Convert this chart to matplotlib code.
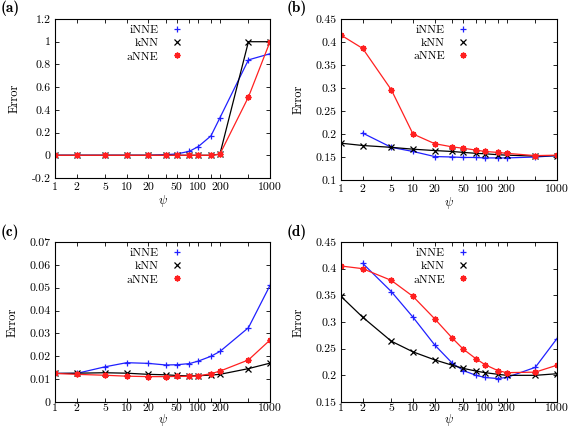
import numpy as np
import matplotlib
matplotlib.use("Agg")
import matplotlib.pyplot as plt
from matplotlib.lines import Line2D
from matplotlib.ticker import FuncFormatter

plt.rcParams['font.family'] = 'serif'
plt.rcParams['font.serif'] = ['cmr10', 'DejaVu Serif']
plt.rcParams['mathtext.fontset'] = 'cm'
plt.rcParams['axes.unicode_minus'] = False
plt.rcParams['axes.formatter.use_mathtext'] = True

psi = [1, 2, 5, 10, 20, 35, 50, 75, 100, 150, 200, 500, 1000]
psi_labels = ['1', '2', '5', '10', '20', '', '50', '', '100', '', '200', '', '1000']

# (a)
a_inne = [0, 0, 0, 0, 0, 0.005, 0.012, 0.035, 0.077, 0.171, 0.33, 0.84, 0.894]
a_knn = [0, 0, 0, 0, 0, 0, 0, 0, 0, 0, 0.01, 1.0, 1.0]
a_anne = [0, 0, 0, 0, 0, 0, 0, 0, 0, 0, 0.01, 0.513, 1.0]

# (b) iNNE starts at psi=2
b_inne = [np.nan, 0.202, 0.171, 0.162, 0.151, 0.150, 0.149, 0.149, 0.148, 0.148, 0.148, 0.150, 0.153]
b_knn = [0.180, 0.175, 0.171, 0.167, 0.164, 0.162, 0.160, 0.158, 0.157, 0.155, 0.154, 0.152, 0.153]
b_anne = [0.415, 0.386, 0.296, 0.200, 0.179, 0.172, 0.169, 0.165, 0.162, 0.160, 0.158, 0.153, 0.154]

# (c)
c_inne = [0.0125, 0.0125, 0.0154, 0.0172, 0.0169, 0.0162, 0.0163, 0.0168, 0.0179, 0.0200, 0.0221, 0.0325, 0.0510]
c_knn = [0.0125, 0.0126, 0.0128, 0.0126, 0.0121, 0.0119, 0.0116, 0.0114, 0.0115, 0.0118, 0.0121, 0.0146, 0.0170]
c_anne = [0.0125, 0.0121, 0.0117, 0.0113, 0.0111, 0.0111, 0.0112, 0.0112, 0.0114, 0.0124, 0.0135, 0.0184, 0.0271]

# (d) iNNE starts at psi=2
d_inne = [np.nan, 0.410, 0.357, 0.309, 0.257, 0.223, 0.209, 0.200, 0.196, 0.194, 0.196, 0.215, 0.269]
d_knn = [0.348, 0.309, 0.264, 0.244, 0.229, 0.219, 0.213, 0.208, 0.205, 0.202, 0.200, 0.200, 0.203]
d_anne = [0.405, 0.400, 0.378, 0.348, 0.306, 0.270, 0.249, 0.231, 0.220, 0.209, 0.205, 0.206, 0.219]

panels = [
    ('(a)', a_inne, a_knn, a_anne, (-0.2, 1.2), np.arange(-0.2, 1.21, 0.2)),
    ('(b)', b_inne, b_knn, b_anne, (0.1, 0.45), np.arange(0.1, 0.451, 0.05)),
    ('(c)', c_inne, c_knn, c_anne, (0, 0.07), np.arange(0, 0.0701, 0.01)),
    ('(d)', d_inne, d_knn, d_anne, (0.15, 0.45), np.arange(0.15, 0.451, 0.05)),
]

# axes boxes in pixels: left, right, top, bottom
boxes = [(55, 270, 19, 178), (341, 557, 19, 180), (55, 270, 242, 402), (341, 557, 242, 402)]
W, H = 568, 430

fig = plt.figure(figsize=(5.68, 4.30), dpi=100)
blue, black, red = '#2020ff', 'black', '#ff2020'
ast = (8, 2, 0)
mk = dict(inne=dict(marker='+', ms=4.5, mew=0.9),
          knn=dict(marker='x', ms=3.8, mew=0.9),
          anne=dict(marker=ast, ms=4.2, mew=1.1))

for i, ((tag, inne, knn, anne, ylim, yt), (l, r, t, b)) in enumerate(zip(panels, boxes)):
    bottom_row = i >= 2
    ax = fig.add_axes([l / W, 1 - b / H, (r - l) / W, (b - t) / H])
    ax.plot(psi, inne, color=blue, lw=0.9, **mk['inne'])
    ax.plot(psi, knn, color=black, lw=0.9, **mk['knn'])
    ax.plot(psi, anne, color=red, lw=0.9, **mk['anne'])
    ax.set_xscale('log')
    ax.set_xlim(1, 1000)
    ax.set_xticks(psi)
    ax.set_xticklabels(psi_labels)
    ax.minorticks_off()
    ax.set_ylim(*ylim)
    ax.set_yticks(yt)
    ax.yaxis.set_major_formatter(FuncFormatter(lambda v, p: '%g' % round(v, 4)))
    ax.tick_params(direction='in', top=True, right=True, labelsize=8.5, length=3, width=0.6, pad=3)
    ax.tick_params(axis='x', pad=1 if bottom_row else 3)
    for s in ax.spines.values():
        s.set_linewidth(0.8)
    ax.set_xlabel(r'$\psi$', fontsize=9, labelpad=-1 if bottom_row else 1)
    ax.set_ylabel('Error', fontsize=9, labelpad=8)
    handles = [Line2D([], [], color=blue, ls='none', **mk['inne']),
               Line2D([], [], color=black, ls='none', **mk['knn']),
               Line2D([], [], color=red, ls='none', **mk['anne'])]
    ax.legend(handles, ['iNNE', 'kNN', 'aNNE'], markerfirst=False, frameon=False,
              loc='upper center', bbox_to_anchor=(0.47, 1.03), fontsize=8.5,
              handlelength=1.5, handletextpad=0.8, labelspacing=0.25)
    fig.text((l - 54) / W, 1 - (t - 18) / H, tag, fontsize=11, fontweight='bold',
             family='cmb10', va='top', ha='left')

fig.savefig('out.png', dpi=100)
